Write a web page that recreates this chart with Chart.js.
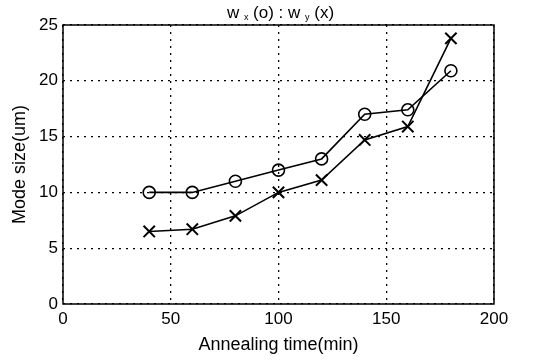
<!DOCTYPE html>
<html>
<head>
<meta charset="utf-8">
<script src="https://cdn.jsdelivr.net/npm/chart.js@4"></script>
<style>
  html, body { margin: 0; padding: 0; background: #fff; }
  #wrap { width: 534px; height: 360px; }
</style>
</head>
<body>
<div id="wrap"><canvas id="chart"></canvas></div>
<script>
// annealing time (min)
const times = [40, 60, 80, 100, 120, 140, 160, 180];
// mode size w_x (circles) and w_y (crosses), um
const wx = [10, 10, 11, 12, 13, 17, 17.4, 20.9];
const wy = [6.5, 6.7, 7.9, 10, 11.1, 14.7, 15.9, 23.8];

const xTicks = [0, 50, 100, 150, 200];
const yTicks = [0, 5, 10, 15, 20, 25];

const FONT = 'Liberation Sans, Arial, sans-serif';

function toPoints(xs, ys) {
  return xs.map((x, i) => ({ x: x, y: ys[i] }));
}

// frame round the plot area, like a matlab axes box
const boxPlugin = {
  id: 'box',
  afterDraw(chart) {
    const a = chart.chartArea;
    const ctx = chart.ctx;
    ctx.save();
    ctx.strokeStyle = '#000';
    ctx.lineWidth = 1.5;
    ctx.strokeRect(a.left, a.top, a.right - a.left, a.bottom - a.top);
    ctx.restore();
  },
};

// title with small subscripts: w x (o) : w y (x)
const titlePlugin = {
  id: 'subTitle',
  afterDraw(chart) {
    const ctx = chart.ctx;
    const parts = [
      ['w ', 17, 0], ['x', 9, 2], [' (o) : w ', 17, 0], ['y', 9, 2], [' (x)', 17, 0],
    ];
    ctx.save();
    ctx.fillStyle = '#000';
    ctx.textBaseline = 'alphabetic';
    let total = 0;
    parts.forEach((p) => { ctx.font = p[1] + 'px ' + FONT; total += ctx.measureText(p[0]).width; });
    const a = chart.chartArea;
    let x = (a.left + a.right) / 2 - total / 2 + 2;
    const base = 18;
    parts.forEach((p) => {
      ctx.font = p[1] + 'px ' + FONT;
      ctx.fillText(p[0], x, base + p[2]);
      x += ctx.measureText(p[0]).width;
    });
    ctx.restore();
  },
};

const gridStyle = {
  color: '#000',
  lineWidth: 1.3,
  drawTicks: false,
};
const borderStyle = { display: false, dash: [2, 5] };

new Chart(document.getElementById('chart'), {
  type: 'line',
  data: {
    datasets: [
      {
        label: 'w x',
        data: toPoints(times, wx),
        borderColor: '#000',
        borderWidth: 1.6,
        pointStyle: 'circle',
        pointRadius: 6,
        pointBorderWidth: 1.6,
        pointBackgroundColor: 'rgba(255,255,255,0)',
        pointBorderColor: '#000',
        tension: 0,
      },
      {
        label: 'w y',
        data: toPoints(times, wy),
        borderColor: '#000',
        borderWidth: 1.6,
        pointStyle: 'crossRot',
        pointRadius: 8,
        pointBorderWidth: 2,
        pointBorderColor: '#000',
        tension: 0,
      },
    ],
  },
  options: {
    responsive: true,
    maintainAspectRatio: false,
    animation: false,
    layout: { padding: { top: 25, right: 40, left: 0, bottom: 0 } },
    plugins: {
      legend: { display: false },
      tooltip: { enabled: false },
    },
    scales: {
      x: {
        type: 'linear',
        min: 0,
        max: 200,
        afterBuildTicks: (s) => { s.ticks = xTicks.map((v) => ({ value: v })); },
        afterFit: (s) => { s.height = 56; },
        ticks: { color: '#000', font: { family: FONT, size: 17 }, padding: 5, maxRotation: 0 },
        grid: gridStyle,
        border: borderStyle,
        title: {
          display: true,
          text: 'Annealing time(min)',
          color: '#000',
          font: { family: FONT, size: 18 },
          padding: { top: 0, bottom: 4 },
        },
      },
      y: {
        type: 'linear',
        min: 0,
        max: 25,
        afterBuildTicks: (s) => { s.ticks = yTicks.map((v) => ({ value: v })); },
        afterFit: (s) => { s.width = 63; },
        ticks: { color: '#000', font: { family: FONT, size: 17 }, padding: 5 },
        grid: gridStyle,
        border: borderStyle,
        title: {
          display: true,
          text: 'Mode size(um)',
          color: '#000',
          font: { family: FONT, size: 18 },
          padding: { top: 9, bottom: 0 },
        },
      },
    },
  },
  plugins: [boxPlugin, titlePlugin],
});
</script>
</body>
</html>
